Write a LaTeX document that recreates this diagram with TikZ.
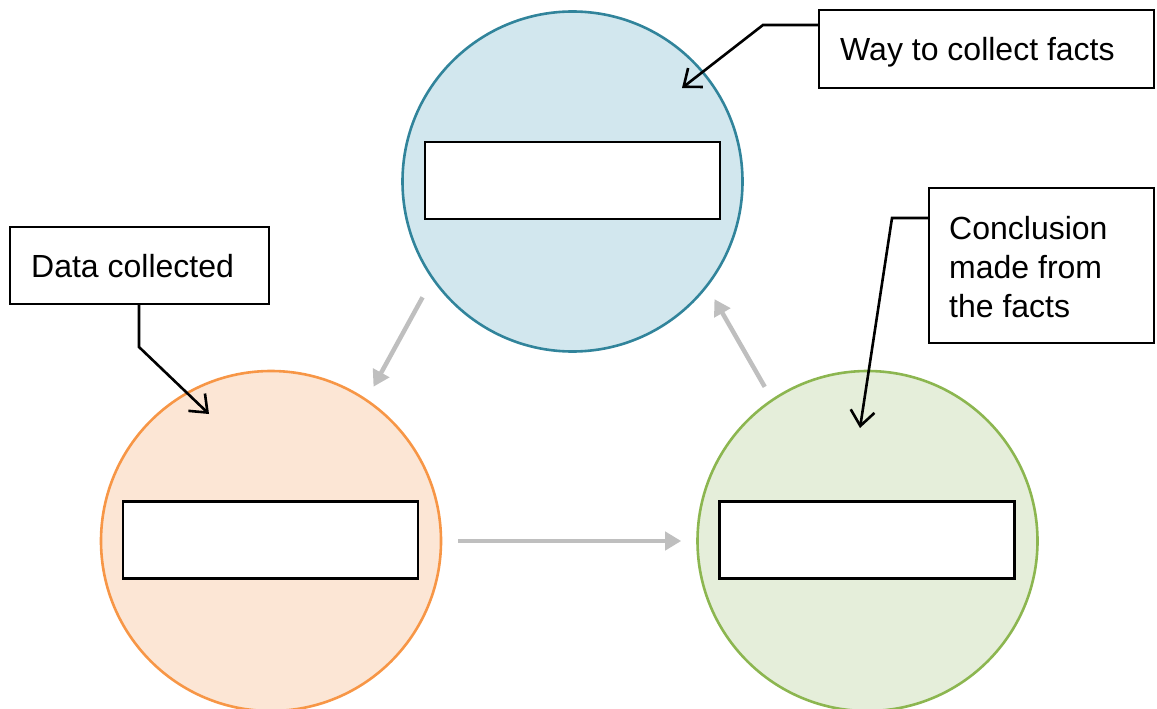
\documentclass[tikz,border=0pt]{standalone}
\usepackage{fontspec}
\setmainfont{Liberation Sans}
\usetikzlibrary{arrows.meta}

\definecolor{bluefill}{HTML}{D2E7EE}
\definecolor{bluedraw}{HTML}{31849B}
\definecolor{orangefill}{HTML}{FCE6D5}
\definecolor{orangedraw}{HTML}{F79646}
\definecolor{greenfill}{HTML}{E5EEDA}
\definecolor{greendraw}{HTML}{8CB650}
\definecolor{flowgray}{HTML}{BFBFBF}

\tikzset{
  callout/.style={draw=black, line width=2.6pt, -{Straight Barb[length=15pt,width=24pt]}},
  flow/.style={draw=flowgray, line width=4.5pt, -{Triangle[length=16pt,width=18pt]}},
}

\begin{document}
\begin{tikzpicture}[x=1pt,y=-1pt]
        \useasboundingbox (0,0) rectangle (1157,709);

        \begin{scope}[every node/.style={circle, minimum size=340pt, inner sep=0pt, line width=2.6pt}]
          \node[draw=bluedraw, fill=bluefill]     (1) at (572.5,181.5) {};
          \node[draw=orangedraw, fill=orangefill] (2) at (271,541) {};
          \node[draw=greendraw, fill=greenfill]   (3) at (867.5,541) {};
        \end{scope}

        \begin{scope}[every node/.style={draw, fill=white, line width=2.6pt, minimum width=295pt, minimum height=77pt}]
          \node (r1) at (572.5,180.5) {};
          \node (r2) at (270.5,540) {};
          \node (r3) at (867,540) {};
        \end{scope}

        \begin{scope}[every node/.style={draw, fill=white, line width=2.2pt}]
          \node[minimum width=335pt, minimum height=78pt]  (way)    at (986.5,49) {};
          \node[minimum width=259pt, minimum height=77pt]  (data)   at (139.5,265.5) {};
          \node[minimum width=225pt, minimum height=155pt] (concl)  at (1041.5,265.5) {};
        \end{scope}

        \begin{scope}[every node/.style={inner sep=0pt, anchor=base west, align=left, font=\fontsize{32pt}{39pt}\selectfont}]
          \node (t1) at (840,61)  {Way to collect facts};
          \node (t2) at (31,277)  {Data collected};
          \node (t3) at (949,317) {Conclusion\\made from\\the facts};
        \end{scope}

        % callout pointers
        \coordinate (k1) at (763,25);
        \coordinate (p1) at (682,88);
        \coordinate (k2) at (139,347);
        \coordinate (p2) at (209,414);
        \coordinate (k3) at (892,218);
        \coordinate (p3) at (860,428);
        \draw[callout] (way.west |- k1) -- (k1) -- (p1);
        \draw[callout] (data.south -| k2) -- (k2) -- (p2);
        \draw[callout] (concl.west |- k3) -- (k3) -- (p3);

        % cycle
        \draw[flow, shorten <=20pt, shorten >=14pt] (1.215) -- (2.56);
        \draw[flow, shorten <=16pt, shorten >=15pt] (2.east) -- (3.west);
        \draw[flow, shorten <=14pt, shorten >=14pt] (3.124) -- (1.322);

      \end{tikzpicture}
\end{document}
